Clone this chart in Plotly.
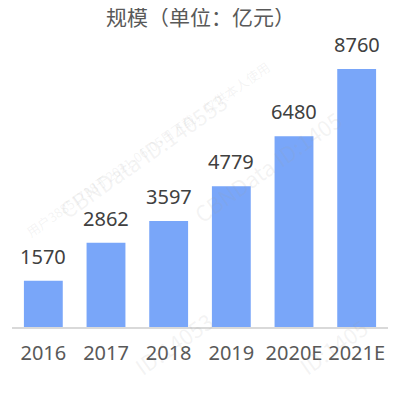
import plotly.graph_objects as go

categories = ["2016", "2017", "2018", "2019", "2020E", "2021E"]
values = [1570, 2862, 3597, 4779, 6480, 8760]
title_text = "规模（单位：亿元）"

font_family = "Noto Sans, Noto Sans CJK SC, sans-serif"
cjk_family = "Noto Sans CJK SC, Noto Sans, sans-serif"

fig = go.Figure(go.Bar(
    x=categories, y=values,
    marker=dict(color="#79A6F9", line=dict(width=0)),
    width=0.62,
    cliponaxis=False,
))

wm_color = "rgba(160,160,160,0.13)"
watermarks = [
    dict(text="CBNData ID:140553", x=0.10, y=0.60, size=22, angle=-35),
    dict(text="用户38851738于2021-06-05日下载，仅供本人使用", x=0.36, y=0.62, size=13, angle=-35),
    dict(text="CBNData ID:1405", x=0.90, y=0.56, size=22, angle=-35),
    dict(text="ID:14053", x=0.30, y=-0.20, size=22, angle=-35),
    dict(text="ID:1405", x=0.97, y=-0.20, size=22, angle=-35),
]

annotations = []
for w in watermarks:
    annotations.append(dict(text=w["text"], xref="paper", yref="paper",
                            x=w["x"], y=w["y"], showarrow=False,
                            textangle=w["angle"],
                            font=dict(size=w["size"], color=wm_color, family=cjk_family)))

# value labels above bars (category index positions)
for i, v in enumerate(values):
    annotations.append(dict(text=str(v), x=i, y=v, xref="x", yref="y",
                            showarrow=False, yanchor="bottom", yshift=9,
                            font=dict(size=20, color="#404040", family=font_family)))

# plot area spans figure px 32..319 vertically (height 287)
annotations.append(dict(text=title_text, xref="paper", yref="paper", x=0.5,
                        y=(319 - 25) / 287, showarrow=False,
                        font=dict(size=21, color="#595959", family=cjk_family),
                        xanchor="center", yanchor="bottom"))

fig.update_layout(
    width=392, height=392,
    margin=dict(l=4, r=12, t=32, b=73, autoexpand=False),
    paper_bgcolor="white", plot_bgcolor="white",
    showlegend=False,
    bargap=0.38,
    annotations=annotations,
    xaxis=dict(type="category", range=[-0.5, len(categories) - 0.5],
               showline=True, linecolor="#D9D9D9", linewidth=1.5,
               tickfont=dict(size=20, color="#595959", family=font_family),
               ticks="", ticklabelstandoff=7, showgrid=False, automargin=False),
    yaxis=dict(visible=False, range=[0, 9745], showgrid=False, zeroline=False,
               automargin=False),
)

fig.write_html("out.html")
